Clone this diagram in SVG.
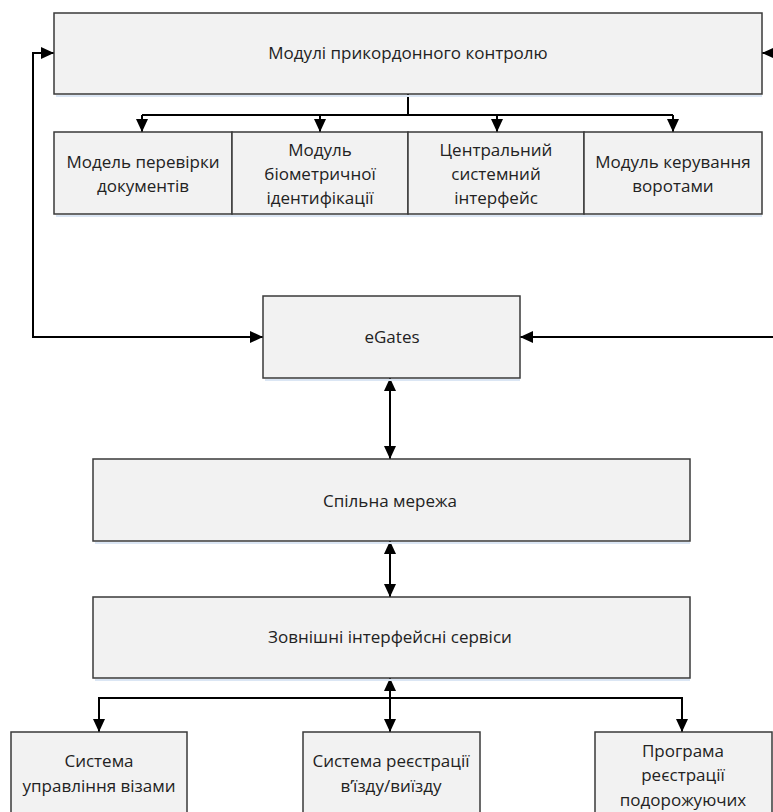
<svg xmlns="http://www.w3.org/2000/svg" width="773" height="812" viewBox="0 0 773 812">
  <style>
    .box { fill: #f2f2f2; stroke: #3a3a3a; stroke-width: 1.5; }
    .shadow { fill: #dbe6f4; }
    .lbl { font-family: "Open Sans", "Noto Sans", "DejaVu Sans", sans-serif; font-size: 17px; fill: #222; text-anchor: middle; }
    .wire { fill: none; stroke: #000; stroke-width: 2; }
  </style>
  <defs>
    <marker id="arr" viewBox="0 0 13 12" refX="13" refY="6" markerWidth="13" markerHeight="12" markerUnits="userSpaceOnUse" orient="auto-start-reverse">
      <path d="M0,0 L13,6 L0,12 Z" fill="#000"/>
    </marker>
  </defs>

  <rect width="773" height="812" fill="#fff"/>

  <!-- connectors -->
  <g id="connectors">
    <!-- left loop between eGates and the border control modules -->
    <path class="wire" d="M263,337 H33 V53 H54" marker-start="url(#arr)" marker-end="url(#arr)"/>
    <!-- right loop: runs along the right edge -->
    <path class="wire" d="M775,337 H520" marker-end="url(#arr)"/>
    <path class="wire" d="M775,53 H762" marker-end="url(#arr)"/>
    <!-- fan-out to the four modules -->
    <path class="wire" d="M408,94 V115"/>
    <path class="wire" d="M142,115 H673"/>
    <path class="wire" d="M142,115 V132" marker-end="url(#arr)"/>
    <path class="wire" d="M320,115 V132" marker-end="url(#arr)"/>
    <path class="wire" d="M497,115 V132" marker-end="url(#arr)"/>
    <path class="wire" d="M673,115 V132" marker-end="url(#arr)"/>
    <!-- vertical chain -->
    <path class="wire" d="M390,378 V459" marker-start="url(#arr)" marker-end="url(#arr)"/>
    <path class="wire" d="M390,541 V597" marker-start="url(#arr)" marker-end="url(#arr)"/>
    <path class="wire" d="M390,678 V732" marker-start="url(#arr)" marker-end="url(#arr)"/>
    <!-- fan-out to external systems -->
    <path class="wire" d="M99,732 V698 H682 V732" marker-start="url(#arr)" marker-end="url(#arr)"/>
  </g>

  <g id="border-control">
    <rect class="shadow" x="56" y="95" width="706" height="2"/>
    <rect class="box" x="54" y="13" width="708" height="81"/>
    <text class="lbl" x="408" y="59">Модулі прикордонного контролю</text>
  </g>

  <g id="doc-check">
    <rect class="shadow" x="56" y="215" width="706" height="2"/>
    <rect class="box" x="54" y="132" width="178" height="82"/>
    <text class="lbl" x="143" y="168">Модель перевірки</text>
    <text class="lbl" x="143" y="192">документів</text>
  </g>

  <g id="biometric">
    <rect class="box" x="232" y="132" width="176" height="82"/>
    <text class="lbl" x="320" y="156">Модуль</text>
    <text class="lbl" x="320" y="180">біометричної</text>
    <text class="lbl" x="320" y="204">ідентифікації</text>
  </g>

  <g id="central-interface">
    <rect class="box" x="408" y="132" width="176" height="82"/>
    <text class="lbl" x="496" y="156">Центральний</text>
    <text class="lbl" x="496" y="180">системний</text>
    <text class="lbl" x="496" y="204">інтерфейс</text>
  </g>

  <g id="gate-control">
    <rect class="box" x="584" y="132" width="178" height="82"/>
    <text class="lbl" x="673" y="168">Модуль керування</text>
    <text class="lbl" x="673" y="192">воротами</text>
  </g>

  <g id="egates">
    <rect class="shadow" x="265" y="379" width="255" height="2"/>
    <rect class="box" x="263" y="296" width="257" height="82"/>
    <text class="lbl" x="392" y="343">eGates</text>
  </g>

  <g id="shared-network">
    <rect class="shadow" x="95" y="542" width="595" height="2"/>
    <rect class="box" x="93" y="459" width="597" height="82"/>
    <text class="lbl" x="390" y="507">Спільна мережа</text>
  </g>

  <g id="external-services">
    <rect class="shadow" x="95" y="679" width="595" height="2"/>
    <rect class="box" x="93" y="597" width="597" height="81"/>
    <text class="lbl" x="390" y="643">Зовнішні інтерфейсні сервіси</text>
  </g>

  <g id="visa-system">
    <rect class="box" x="11" y="732" width="176" height="100"/>
    <text class="lbl" x="99" y="767">Система</text>
    <text class="lbl" x="99" y="792">управління візами</text>
  </g>

  <g id="entry-exit">
    <rect class="box" x="303" y="732" width="177" height="100"/>
    <text class="lbl" x="391" y="767">Система реєстрації</text>
    <text class="lbl" x="391" y="792">в’їзду/виїзду</text>
  </g>

  <g id="traveller-programme">
    <rect class="box" x="595" y="732" width="177" height="100"/>
    <text class="lbl" x="683" y="757">Програма</text>
    <text class="lbl" x="683" y="781">реєстрації</text>
    <text class="lbl" x="683" y="806">подорожуючих</text>
  </g>
</svg>
